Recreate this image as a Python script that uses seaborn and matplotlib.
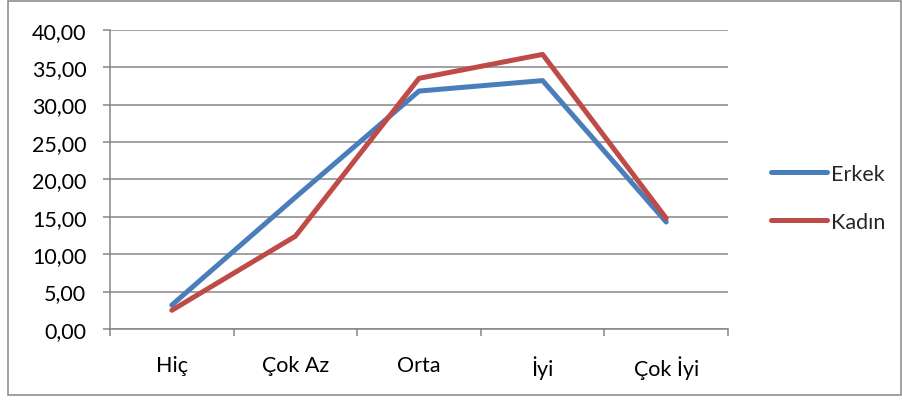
import numpy as np
import pandas as pd
import matplotlib
matplotlib.use("Agg")
import matplotlib.pyplot as plt
import seaborn as sns
from matplotlib.patches import Rectangle
from matplotlib.ticker import FixedLocator, FuncFormatter

# Data
kategoriler = ["Hiç", "Çok Az", "Orta", "İyi", "Çok İyi"]
erkek = [3.2, 17.6, 31.8, 33.2, 14.3]
kadin = [2.5, 12.4, 33.5, 36.7, 14.8]
seriler = ["Erkek", "Kadın"]
renkler = ["#4A7EBB", "#BE4B48"]

df = pd.DataFrame({
    "kategori": kategoriler * 2,
    "deger": erkek + kadin,
    "cinsiyet": [seriler[0]] * len(kategoriler) + [seriler[1]] * len(kategoriler),
})

sns.set_style("white")
plt.rcParams["font.family"] = ["Lato", "DejaVu Sans"]
fs = 15.5

fig = plt.figure(figsize=(9.03, 4.02), dpi=100)
ax = fig.add_axes([110 / 903, 1 - 330 / 402, (728 - 110) / 903, (330 - 30.7) / 402])

sns.lineplot(data=df, x="kategori", y="deger", hue="cinsiyet",
             palette=renkler, linewidth=3.6, sort=False, ax=ax, legend=True)

ax.set_xlim(-0.5, len(kategoriler) - 0.5)
ax.set_ylim(0, 40)
ax.set_yticks(np.arange(0, 41, 5))
ax.yaxis.set_major_formatter(FuncFormatter(lambda v, p: f"{v:.2f}".replace(".", ",")))
ax.set_xticks(range(len(kategoriler)))
ax.set_xticklabels(kategoriler)
ax.xaxis.set_minor_locator(FixedLocator(np.arange(-0.5, len(kategoriler), 1.0)))

gri = "#868686"
ax.grid(axis="y", color=gri, linewidth=1.1)
ax.set_axisbelow(True)
for s in ["top", "right"]:
    ax.spines[s].set_visible(False)
for s in ["left", "bottom"]:
    ax.spines[s].set_color(gri)
    ax.spines[s].set_linewidth(1.1)

ax.tick_params(axis="y", which="major", length=5, width=1.1, color=gri, pad=12,
               labelsize=fs, labelcolor="black", left=True)
ax.tick_params(axis="x", which="major", length=0, pad=19, labelsize=fs, labelcolor="black")
ax.tick_params(axis="x", which="minor", length=5, width=1.1, color=gri, bottom=True)
ax.set_xlabel("")
ax.set_ylabel("")

leg = ax.legend(loc="center left", bbox_to_anchor=(762 / 903, 1 - 199 / 402),
                bbox_transform=fig.transFigure, frameon=False, borderaxespad=0,
                fontsize=fs, handlelength=2.6, handletextpad=0.2, labelspacing=1.3)
for h in leg.get_lines():
    h.set_linewidth(3.6)

fig.patches.append(Rectangle((8 / 903, 6 / 402), 893 / 903, 394 / 402,
                             transform=fig.transFigure, fill=False,
                             edgecolor=gri, linewidth=1.1))

fig.savefig("out.png", dpi=100)
